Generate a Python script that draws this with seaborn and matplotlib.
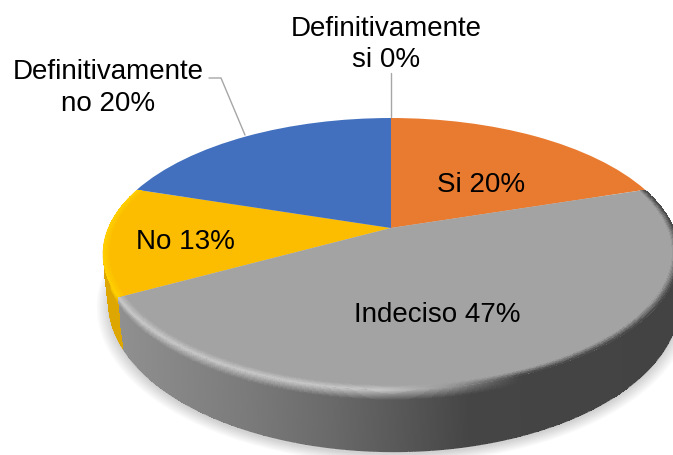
import numpy as np
import seaborn as sns
import matplotlib
matplotlib.use("Agg")
import matplotlib.pyplot as plt
from matplotlib.collections import LineCollection
from matplotlib.transforms import Transform

# chart data
labels = ["Definitivamente\nsi 0%", "Si 20%", "Indeciso 47%", "No 13%", "Definitivamente\nno 20%"]
values = [0, 20, 47, 13, 20]
colors = ["#5B9BD5", "#E97B31", "#A3A3A3", "#FCBD00", "#4270BF"]

sns.set_theme(style="white")
plt.rcParams["font.family"] = ["Liberation Sans", "DejaVu Sans"]

# view of the tilted pie, in pixels
CX, CY, W, H, P = 391, 228, 283, 131, 0.191
DEPTH, H_LOW, SHRINK, SHIFT = 45, 144.5, 0.01, 3


class PieView(Transform):
    input_dims = output_dims = 2

    def transform_non_affine(self, xy):
        xy = np.asarray(xy)
        k = 1 + P * xy[:, 1]
        return np.column_stack([CX + W * xy[:, 0] / k, CY - H * xy[:, 1] / k])


def rim(th, r, s):
    u, v = r * np.cos(th), r * np.sin(th)
    k = 1 + P * v
    return CX + SHIFT * s + W * (1 - SHRINK * s) * u / k, CY + DEPTH * s - (H + (H_LOW - H) * s) * v / k


def side(ax, th1, th2, face, base_fn, high_fn, z_wall, z_ring):
    th = np.linspace(th1, th2, 400)
    f = np.array(face)

    # wall below the face
    s = np.r_[np.linspace(0, 0.16, 12), np.linspace(0.16, 1, 7)[1:]]
    T, I = np.meshgrid(th, np.arange(len(s)))
    X, Y = rim(T, 1, s[I])
    xc = (X[:-1, :-1] + X[1:, 1:]) / 2
    base = base_fn(xc)
    high, wt = high_fn(xc)
    edge = base + (high - base) * wt[..., None]
    g = np.minimum((s[:-1] + s[1:]) / 2 / 0.16, 1)[:, None, None]
    ax.pcolormesh(X, Y, edge + (base - edge) * g, shading="flat", zorder=z_wall)

    # thin bevel ring on the face
    r = np.linspace(0.975, 1, 7)
    T, I = np.meshgrid(th, np.arange(len(r)))
    X, Y = rim(T, r[I], 0)
    xc = (X[:-1, :-1] + X[1:, 1:]) / 2
    base = base_fn(xc)
    high, wt = high_fn(xc)
    edge = base + (high - base) * wt[..., None]
    g = ((np.arange(len(r) - 1) + 0.5) / (len(r) - 1))[:, None, None]
    ax.pcolormesh(X, Y, f + (edge - f) * g, shading="flat", zorder=z_ring)

    # smooth lower edge of the wall
    bx, by = rim(th, 1, 1)
    pts = np.column_stack([bx, by])
    segs = np.stack([pts[:-1], pts[1:]], axis=1)
    ax.add_collection(LineCollection(segs, colors=base_fn((bx[:-1] + bx[1:]) / 2), linewidths=0.8, zorder=z_wall), autolim=False)


def gray_base(x):
    v = np.interp(x, [119, 250, 330, 400, 470, 673], [0x90, 0x7A, 0x6A, 0x58, 0x45, 0x43]) / 255
    return np.stack([v, v, v], axis=-1)


def gray_high(x):
    wt = np.interp(x, [119, 380, 450, 520], [1, 1, 0.6, 0])
    return np.ones(x.shape + (3,)) * 0.78, wt


def yellow_base(x):
    return np.ones(x.shape + (3,)) * np.array([0.87, 0.65, 0.0])


def yellow_high(x):
    return np.ones(x.shape + (3,)) * np.array([1.0, 0.82, 0.0]), np.ones(x.shape)


fig = plt.figure(figsize=(6.73, 4.55), dpi=100)
ax = fig.add_axes([0, 0, 1, 1])

# pie faces
wedges, _ = ax.pie(values, colors=colors, startangle=90, counterclock=False)
view = PieView() + ax.transData
for w in wedges:
    w.set_transform(view)
    w.set_linewidth(0)
    w.set_zorder(3)
wedges[2].set_zorder(6)

# wall pieces, angles come from the values
total = sum(values)
edges = 90 - 360 * np.cumsum(values) / total
side(ax, np.radians(edges[2]), np.radians(edges[1]), np.array([0xA3, 0xA3, 0xA3]) / 255, gray_base, gray_high, 5, 7)
side(ax, np.radians(edges[3]), np.radians(edges[2]), np.array([0xFC, 0xBD, 0x00]) / 255, yellow_base, yellow_high, 2.5, 3.5)

# soft shadow under the pie
th = np.linspace(0, 2 * np.pi, 240)
for g in np.linspace(1.0, 1.04, 9):
    sx, sy = rim(th, g, 1)
    ax.fill(sx, sy + 3, color="black", alpha=0.018, lw=0, zorder=1)

ax.set_aspect("auto")
ax.set_xlim(0, 673)
ax.set_ylim(455, 0)
ax.axis("off")

# leader lines
ax.plot([391, 391], [117, 73], color="#A6A6A6", lw=1, zorder=2)
ax.plot([245, 221, 209], [135, 78, 78], color="#A6A6A6", lw=1, zorder=2)

# labels
ax.text(386, 44.5, labels[0], ha="center", va="center", fontsize=20, color="black", linespacing=1.27, zorder=10)
ax.text(481, 185, labels[1], ha="center", va="center", fontsize=20, color="black", zorder=10)
ax.text(437, 315, labels[2], ha="center", va="center", fontsize=20, color="black", zorder=10)
ax.text(185, 242, labels[3], ha="center", va="center", fontsize=20, color="black", zorder=10)
ax.text(108, 88, labels[4], ha="center", va="center", fontsize=20, color="black", linespacing=1.27, zorder=10)

fig.savefig("out.png", dpi=100)
